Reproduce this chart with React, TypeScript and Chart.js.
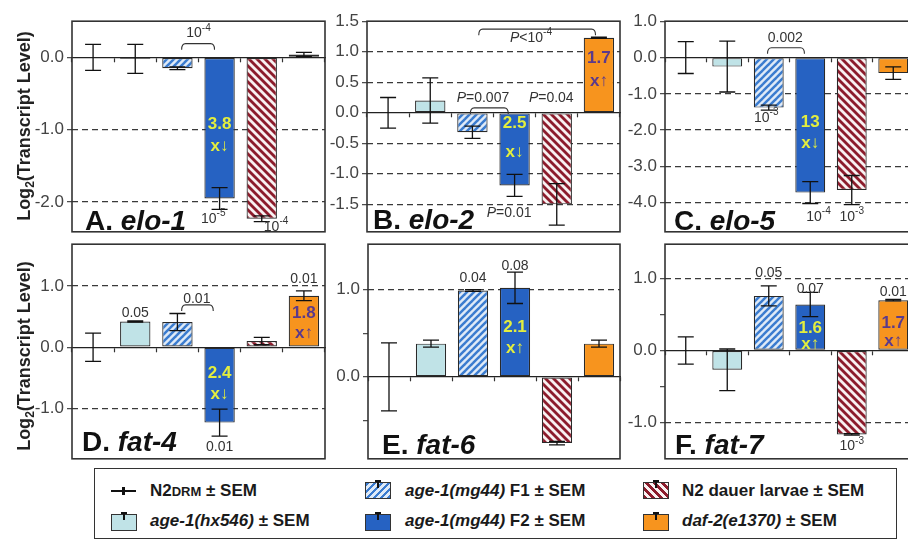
import React, { useEffect, useRef } from 'react';
import { Chart, registerables } from 'chart.js';
Chart.register(...registerables);

const FONT = '"Liberation Sans", Arial, Helvetica, "DejaVu Sans", sans-serif';

// ---------------- data ----------------
const categories = ['N2DRM', 'age-1(hx546)', 'age-1(mg44) F1', 'age-1(mg44) F2', 'N2 dauer larvae', 'daf-2(e1370)'];

const elo1Values = [0, -0.02, -0.15, -1.95, -2.23, 0.04];
const elo1Errors = [0.18, 0.2, 0.02, 0.15, 0.04, 0.03];
const elo1Ticks = [0, -1, -2];
const elo1Labeled = [0, -1, -2];
const elo1Dashed = [-1, -2];

const elo2Values = [0, 0.2, -0.32, -1.19, -1.5, 1.23];
const elo2Errors = [0.25, 0.37, 0.1, 0.18, 0.34, 0.01];
const elo2Ticks = [1.5, 1, 0.5, 0, -0.5, -1, -1.5];
const elo2Labeled = [1.5, 1, 0.5, 0, -0.5, -1, -1.5];
const elo2Dashed = [1, 0.5, -0.5, -1, -1.5];

const elo5Values = [0, -0.25, -1.38, -3.72, -3.65, -0.43];
const elo5Errors = [0.44, 0.7, 0.07, 0.3, 0.4, 0.17];
const elo5Ticks = [1, 0, -1, -2, -3, -4];
const elo5Labeled = [1, 0, -1, -2, -3, -4];
const elo5Dashed = [-1, -2, -3, -4];

const fat4Values = [0, 0.42, 0.41, -1.23, 0.1, 0.84];
const fat4Errors = [0.23, 0.01, 0.14, 0.22, 0.06, 0.08];
const fat4Ticks = [1, 0, -1];
const fat4Labeled = [1, 0, -1];
const fat4Dashed = [1, -1];

const fat6Values = [0, 0.38, 0.99, 1.02, -0.76, 0.38];
const fat6Errors = [0.39, 0.04, 0.01, 0.18, 0.02, 0.04];
const fat6Ticks = [1, 0.5, 0, -0.5];
const fat6Labeled = [1, 0];
const fat6Dashed = [1];

const fat7Values = [0, -0.27, 0.76, 0.64, -1.17, 0.7];
const fat7Errors = [0.19, 0.29, 0.14, 0.17, 0.01, 0.01];
const fat7Ticks = [1, 0.5, 0, -0.5, -1];
const fat7Labeled = [1, 0, -1];
const fat7Dashed = [1, -1];

type Note = { x: number; y: number; t: string; kind?: 'p' | 'fold' | 'daf' };
type Bracket = { x1: number; x2: number; y: number };

const elo1Notes: Note[] = [
  { x: 2.5, y: 0.33, t: '10^{-4}' },
  { x: 3, y: -0.93, t: '3.8', kind: 'fold' },
  { x: 3, y: -1.23, t: 'x\u2193', kind: 'fold' },
  { x: 2.85, y: -2.23, t: '10^{-5}' },
  { x: 4.34, y: -2.34, t: '10^{-4}' },
];
const elo1Brackets: Bracket[] = [{ x1: 2.1, x2: 2.88, y: 0.19 }];

const elo2Notes: Note[] = [
  { x: 2.25, y: 0.24, t: '*P*=0.007' },
  { x: 3.87, y: 0.24, t: '*P*=0.04' },
  { x: 3.39, y: 1.22, t: '*P*<10^{-4}' },
  { x: 5, y: 0.89, t: '1.7', kind: 'daf' },
  { x: 5, y: 0.52, t: 'x\u2191', kind: 'daf' },
  { x: 3, y: -0.18, t: '2.5', kind: 'fold' },
  { x: 3, y: -0.65, t: 'x\u2193', kind: 'fold' },
  { x: 2.87, y: -1.64, t: '*P*=0.01' },
];
const elo2Brackets: Bracket[] = [
  { x1: 1.95, x2: 2.85, y: 0.08 },
  { x1: 2.15, x2: 4.92, y: 1.37 },
];

const elo5Notes: Note[] = [
  { x: 2.4, y: 0.52, t: '0.002' },
  { x: 1.94, y: -1.66, t: '10^{-3}' },
  { x: 3, y: -1.78, t: '13', kind: 'fold' },
  { x: 3, y: -2.35, t: 'x\u2193', kind: 'fold' },
  { x: 3.2, y: -4.4, t: '10^{-4}' },
  { x: 4.0, y: -4.4, t: '10^{-3}' },
];
const elo5Brackets: Bracket[] = [{ x1: 1.97, x2: 2.86, y: 0.27 }];

const fat4Notes: Note[] = [
  { x: 1, y: 0.56, t: '0.05' },
  { x: 2.46, y: 0.79, t: '0.01' },
  { x: 3, y: -0.42, t: '2.4', kind: 'fold' },
  { x: 3, y: -0.77, t: 'x\u2193', kind: 'fold' },
  { x: 3, y: -1.63, t: '0.01' },
  { x: 5, y: 1.11, t: '0.01' },
  { x: 5, y: 0.56, t: '1.8', kind: 'daf' },
  { x: 5, y: 0.23, t: 'x\u2191', kind: 'daf' },
];
const fat4Brackets: Bracket[] = [{ x1: 2.1, x2: 2.85, y: 0.69 }];

const fat6Notes: Note[] = [
  { x: 2, y: 1.13, t: '0.04' },
  { x: 3, y: 1.27, t: '0.08' },
  { x: 3, y: 0.57, t: '2.1', kind: 'fold' },
  { x: 3, y: 0.33, t: 'x\u2191', kind: 'fold' },
];
const fat6Brackets: Bracket[] = [];

const fat7Notes: Note[] = [
  { x: 2, y: 1.07, t: '0.05' },
  { x: 3, y: 0.86, t: '0.07' },
  { x: 3, y: 0.31, t: '1.6', kind: 'fold' },
  { x: 3, y: 0.08, t: 'x\u2191', kind: 'fold' },
  { x: 4, y: -1.34, t: '10^{-3}' },
  { x: 5, y: 0.81, t: '0.01' },
  { x: 5, y: 0.38, t: '1.7', kind: 'daf' },
  { x: 5, y: 0.12, t: 'x\u2191', kind: 'daf' },
];
const fat7Brackets: Bracket[] = [];

// ---------------- layout ----------------
const panels = [
  { letter: 'A.', gene: 'elo-1', values: elo1Values, errors: elo1Errors, ticks: elo1Ticks, labeled: elo1Labeled, dashed: elo1Dashed, min: -2.41, max: 0.5, box: { left: 72, top: 20, right: 325, bottom: 233 }, notes: elo1Notes, brackets: elo1Brackets, ldx: 13, ldy: 2 },
  { letter: 'B.', gene: 'elo-2', values: elo2Values, errors: elo2Errors, ticks: elo2Ticks, labeled: elo2Labeled, dashed: elo2Dashed, min: -1.95, max: 1.5, box: { left: 367, top: 20, right: 620, bottom: 233 }, notes: elo2Notes, brackets: elo2Brackets, ldx: 6, ldy: 3 },
  { letter: 'C.', gene: 'elo-5', values: elo5Values, errors: elo5Errors, ticks: elo5Ticks, labeled: elo5Labeled, dashed: elo5Dashed, min: -4.8, max: 1.0, box: { left: 665, top: 20, right: 914, bottom: 233 }, notes: elo5Notes, brackets: elo5Brackets, ldx: 9, ldy: 2 },
  { letter: 'D.', gene: 'fat-4', values: fat4Values, errors: fat4Errors, ticks: fat4Ticks, labeled: fat4Labeled, dashed: fat4Dashed, min: -1.82, max: 1.68, box: { left: 72, top: 243, right: 325, bottom: 460 }, notes: fat4Notes, brackets: fat4Brackets, ldx: 10, ldy: 8 },
  { letter: 'E.', gene: 'fat-6', values: fat6Values, errors: fat6Errors, ticks: fat6Ticks, labeled: fat6Labeled, dashed: fat6Dashed, min: -0.94, max: 1.52, box: { left: 368, top: 243, right: 620, bottom: 460 }, notes: fat6Notes, brackets: fat6Brackets, ldx: 14, ldy: 5 },
  { letter: 'F.', gene: 'fat-7', values: fat7Values, errors: fat7Errors, ticks: fat7Ticks, labeled: fat7Labeled, dashed: fat7Dashed, min: -1.51, max: 1.48, box: { left: 665, top: 243, right: 914, bottom: 460 }, notes: fat7Notes, brackets: fat7Brackets, ldx: 10, ldy: 5 },
];

const AXW = 50;
const PAD = 12;

const COL_HX = '#c0e3e7';
const COL_F1_FG = '#3a7bcf';
const COL_F1_BG = '#dfeaf7';
const COL_F2 = '#2662c2';
const COL_DA_FG = '#8c1c2c';
const COL_DA_BG = '#f8f1f1';
const COL_DAF = '#f7941e';
const COL_FOLD = '#e3ee3e';
const COL_FOLD_DAF = '#5b3a8c';

function fontStr(size: number, bold: boolean, italic: boolean) {
  return `${italic ? 'italic ' : ''}${bold ? 'bold ' : ''}${size}px ${FONT}`;
}

type Seg = { text: string; italic: boolean; sup: boolean };
function parseRich(s: string): Seg[] {
  const segs: Seg[] = [];
  let italic = false;
  let sup = false;
  let buf = '';
  const push = () => {
    if (buf) segs.push({ text: buf, italic, sup });
    buf = '';
  };
  for (let i = 0; i < s.length; i++) {
    const ch = s[i];
    if (ch === '*') {
      push();
      italic = !italic;
    } else if (ch === '^' && s[i + 1] === '{') {
      push();
      sup = true;
      i++;
    } else if (ch === '}' && sup) {
      push();
      sup = false;
    } else buf += ch;
  }
  push();
  return segs;
}

function drawRich(ctx: CanvasRenderingContext2D, s: string, x: number, y: number, size: number, bold: boolean, color: string, align: 'center' | 'left', baseline: CanvasTextBaseline) {
  const segs = parseRich(s);
  const widths = segs.map((sg) => {
    ctx.font = fontStr(sg.sup ? size * 0.72 : size, bold, sg.italic);
    return ctx.measureText(sg.text).width;
  });
  const total = widths.reduce((a, b) => a + b, 0);
  let cx = align === 'center' ? x - total / 2 : x;
  ctx.fillStyle = color;
  ctx.textBaseline = baseline;
  ctx.textAlign = 'left';
  segs.forEach((sg, i) => {
    ctx.font = fontStr(sg.sup ? size * 0.72 : size, bold, sg.italic);
    ctx.fillText(sg.text, cx, sg.sup ? y - size * 0.4 : y);
    cx += widths[i];
  });
}

function makeStripe(ctx: CanvasRenderingContext2D, fg: string, bg: string, dir: 'fwd' | 'back', size: number) {
  const c = document.createElement('canvas');
  c.width = size;
  c.height = size;
  const g = c.getContext('2d')!;
  g.fillStyle = bg;
  g.fillRect(0, 0, size, size);
  g.strokeStyle = fg;
  g.lineWidth = size / (2 * Math.SQRT2);
  g.lineCap = 'square';
  for (let k = -1; k <= 1; k++) {
    g.beginPath();
    if (dir === 'fwd') {
      g.moveTo(k * size, size);
      g.lineTo(k * size + size, 0);
    } else {
      g.moveTo(k * size, 0);
      g.lineTo(k * size + size, size);
    }
    g.stroke();
  }
  return ctx.createPattern(c, 'repeat')!;
}

function Panel({ cfg }: { cfg: (typeof panels)[number] }) {
  const ref = useRef<HTMLCanvasElement>(null);
  const b = cfg.box;
  const W = b.right - b.left + AXW + PAD;
  const H = b.bottom - b.top + PAD * 2;

  useEffect(() => {
    const canvas = ref.current!;
    const ctx = canvas.getContext('2d')!;
    const f1Pat = makeStripe(ctx, COL_F1_FG, COL_F1_BG, 'fwd', 7);
    const daPat = makeStripe(ctx, COL_DA_FG, COL_DA_BG, 'back', 8);
    const colors: any[] = ['#ffffff', COL_HX, f1Pat, COL_F2, daPat, COL_DAF];

    const errorBars = {
      id: 'errorBars',
      afterDatasetsDraw(chart: any) {
        const y = chart.scales.y;
        const meta = chart.getDatasetMeta(0);
        const c = chart.ctx;
        c.save();
        c.strokeStyle = '#111';
        c.lineWidth = 1.3;
        meta.data.forEach((bar: any, i: number) => {
          const e = cfg.errors[i];
          const v = cfg.values[i];
          const x = bar.x;
          const y1 = y.getPixelForValue(v + e);
          const y2 = y.getPixelForValue(v - e);
          const cap = 8;
          c.beginPath();
          c.moveTo(x, y1);
          c.lineTo(x, y2);
          c.moveTo(x - cap, y1);
          c.lineTo(x + cap, y1);
          c.moveTo(x - cap, y2);
          c.lineTo(x + cap, y2);
          c.stroke();
        });
        c.restore();
      },
    };

    const notes = {
      id: 'notes',
      afterDraw(chart: any) {
        const xs = chart.scales.x;
        const ys = chart.scales.y;
        const c = chart.ctx;
        const a = chart.chartArea;
        c.save();
        c.strokeStyle = '#333';
        c.lineWidth = 1.1;
        cfg.brackets.forEach((br) => {
          const x1 = xs.getPixelForValue(br.x1);
          const x2 = xs.getPixelForValue(br.x2);
          const yy = ys.getPixelForValue(br.y);
          const drop = 6;
          const r = 4;
          c.beginPath();
          c.moveTo(x1, yy + drop);
          c.quadraticCurveTo(x1, yy, x1 + r, yy);
          c.lineTo(x2 - r, yy);
          c.quadraticCurveTo(x2, yy, x2, yy + drop);
          c.stroke();
        });
        cfg.notes.forEach((n) => {
          const x = xs.getPixelForValue(n.x);
          const yy = ys.getPixelForValue(n.y);
          if (n.kind === 'fold') drawRich(c, n.t, x, yy, 17, true, COL_FOLD, 'center', 'middle');
          else if (n.kind === 'daf') drawRich(c, n.t, x, yy, 17, true, COL_FOLD_DAF, 'center', 'middle');
          else drawRich(c, n.t, x, yy, 14, false, '#333', 'center', 'middle');
        });
        drawRich(c, `${cfg.letter} *${cfg.gene}*`, a.left + cfg.ldx, a.bottom - cfg.ldy, 28, true, '#111', 'left', 'alphabetic');
        c.strokeStyle = '#333';
        c.lineWidth = 1.6;
        c.strokeRect(a.left, a.top, a.right - a.left, a.bottom - a.top);
        c.restore();
      },
    };

    const chart = new Chart(canvas, {
      type: 'bar',
      data: {
        labels: categories,
        datasets: [
          {
            data: cfg.values,
            backgroundColor: colors,
            borderColor: '#2a2a2a',
            borderWidth: [0, 1.2, 1.2, 1.2, 1.2, 1.2],
            borderSkipped: false,
            barPercentage: 0.72,
            categoryPercentage: 1,
          },
        ],
      },
      options: {
        animation: false,
        responsive: false,
        devicePixelRatio: 1,
        events: [],
        layout: { padding: { left: 0, top: PAD, right: PAD, bottom: PAD } },
        plugins: { legend: { display: false }, tooltip: { enabled: false }, title: { display: false } },
        scales: {
          x: {
            type: 'category',
            position: { y: 0 } as any,
            offset: true,
            ticks: { display: false },
            grid: { display: true, drawOnChartArea: false, drawTicks: true, tickLength: 4, offset: true, tickColor: '#333', tickWidth: 1.2 },
            border: { display: true, color: '#222', width: 1.3 },
          },
          y: {
            type: 'linear',
            min: cfg.min,
            max: cfg.max,
            afterBuildTicks: (s: any) => {
              s.ticks = cfg.ticks.map((v) => ({ value: v }));
            },
            afterFit: (s: any) => {
              s.width = AXW;
            },
            ticks: {
              autoSkip: false,
              padding: 3,
              color: '#444',
              font: { family: FONT, size: 17 },
              callback: (v: any) => (cfg.labeled.includes(Number(v)) ? Number(v).toFixed(1) : ''),
            },
            grid: {
              color: (c: any) => (c.tick && cfg.dashed.includes(c.tick.value) ? '#3a3a3a' : 'rgba(0,0,0,0)'),
              lineWidth: 1.3,
              drawTicks: true,
              tickLength: 5,
              tickColor: '#444',
              tickWidth: 1.2,
            },
            border: { display: false, dash: [6, 4] },
          },
        },
      },
      plugins: [errorBars, notes],
    } as any);
    return () => chart.destroy();
  }, []);

  return <canvas ref={ref} width={W} height={H} style={{ position: 'absolute', left: b.left - AXW, top: b.top - PAD, width: W, height: H }} />;
}

const txt: React.CSSProperties = { position: 'absolute', fontFamily: FONT, fontWeight: 'bold', fontSize: 17, color: '#1a1a1a', whiteSpace: 'nowrap', lineHeight: '20px' };

function MiniErr({ left, top }: { left: number; top: number }) {
  return (
    <>
      <div style={{ position: 'absolute', left: left - 1, top: top - 4, width: 2, height: 8, background: '#111' }} />
      <div style={{ position: 'absolute', left: left - 3, top: top - 4, width: 6, height: 1.5, background: '#111' }} />
    </>
  );
}

function Icon({ left, top, bg }: { left: number; top: number; bg: string }) {
  return (
    <>
      <div style={{ position: 'absolute', left, top, width: 26, height: 17, background: bg, border: '1.3px solid #333', boxSizing: 'border-box' }} />
      <MiniErr left={left + 13} top={top + 2} />
    </>
  );
}

function Legend() {
  const f1 = `repeating-linear-gradient(135deg, ${COL_F1_FG} 0 2.5px, ${COL_F1_BG} 2.5px 5px)`;
  const da = `repeating-linear-gradient(45deg, ${COL_DA_FG} 0 2.8px, ${COL_DA_BG} 2.8px 5.6px)`;
  return (
    <>
      <div style={{ position: 'absolute', left: 94, top: 468, width: 803, height: 71, border: '1.5px solid #333', boxSizing: 'border-box', background: '#fff' }} />
      <div style={{ position: 'absolute', left: 111, top: 490, width: 25, height: 2, background: '#111' }} />
      <div style={{ position: 'absolute', left: 122, top: 487, width: 3, height: 8, background: '#111' }} />
      <div style={{ ...txt, left: 150, top: 481 }}>
        N2<span style={{ fontSize: 13 }}>DRM</span> ± SEM
      </div>
      <Icon left={111} top={514} bg={COL_HX} />
      <div style={{ ...txt, left: 150, top: 511 }}>
        <i>age-1(hx546)</i> ± SEM
      </div>
      <Icon left={365} top={482} bg={f1} />
      <div style={{ ...txt, left: 405, top: 481 }}>
        <i>age-1(mg44)</i> F1 ± SEM
      </div>
      <Icon left={365} top={514} bg={COL_F2} />
      <div style={{ ...txt, left: 405, top: 511 }}>
        <i>age-1(mg44)</i> F2 ± SEM
      </div>
      <Icon left={643} top={482} bg={da} />
      <div style={{ ...txt, left: 682, top: 481 }}>N2 dauer larvae ± SEM</div>
      <Icon left={643} top={514} bg={COL_DAF} />
      <div style={{ ...txt, left: 682, top: 511 }}>
        <i>daf-2(e1370)</i> ± SEM
      </div>
    </>
  );
}

function YTitle({ cx, cy }: { cx: number; cy: number }) {
  return (
    <div
      style={{
        position: 'absolute',
        left: cx,
        top: cy,
        transform: 'translate(-50%, -50%) rotate(-90deg)',
        fontFamily: FONT,
        fontWeight: 'bold',
        fontSize: 18,
        color: '#222',
        whiteSpace: 'nowrap',
        lineHeight: '20px',
      }}
    >
      Log<sub style={{ fontSize: 12, verticalAlign: -4 }}>2</sub>(Transcript Level)
    </div>
  );
}

export default function App() {
  return (
    <div style={{ position: 'absolute', left: 0, top: 0, width: 908, height: 541, overflow: 'hidden', background: '#fff' }}>
      {panels.map((p, i) => (
        <Panel key={i} cfg={p} />
      ))}
      <YTitle cx={27} cy={126} />
      <YTitle cx={27} cy={356} />
      <Legend />
    </div>
  );
}
